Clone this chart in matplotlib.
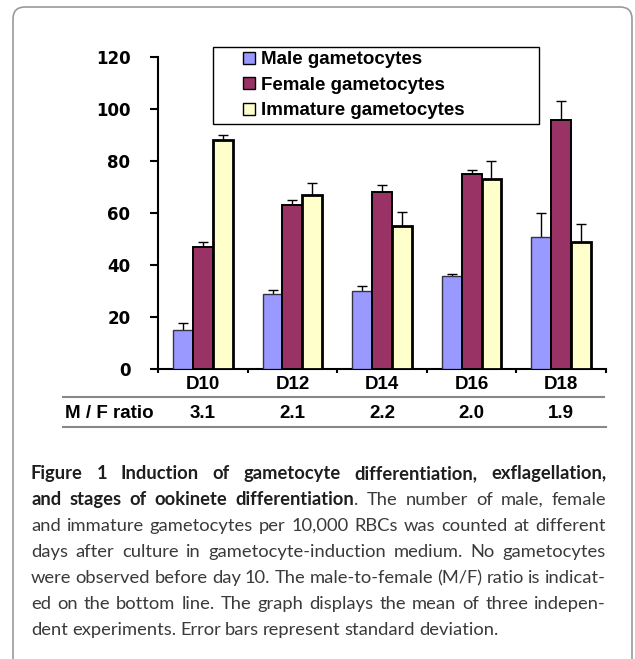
import matplotlib
matplotlib.use("Agg")
import matplotlib.pyplot as plt
import numpy as np
from matplotlib.lines import Line2D
from matplotlib.patches import FancyBboxPatch
from matplotlib.transforms import IdentityTransform, blended_transform_factory

# values
days = ["D10", "D12", "D14", "D16", "D18"]
male = [15, 29, 30, 36, 51]
male_sd = [2.7, 1.5, 2.0, 0.7, 9.0]
female = [47, 63, 68, 75, 96]
female_sd = [2.0, 2.0, 3.0, 1.5, 7.0]
immature = [88, 67, 55, 73, 49]
immature_sd = [2.3, 4.5, 5.5, 7.0, 6.8]
ratio = ["3.1", "2.1", "2.2", "2.0", "1.9"]
labels = ["Male gametocytes", "Female gametocytes", "Immature gametocytes"]

caption = [
    [("Figure 1 Induction of gametocyte differentiation, exflagellation,", "bold")],
    [("and stages of ookinete differentiation", "bold"), (". The number of male, female", "normal")],
    [("and immature gametocytes per 10,000 RBCs was counted at different", "normal")],
    [("days after culture in gametocyte-induction medium. No gametocytes", "normal")],
    [("were observed before day 10. The male-to-female (M/F) ratio is indicat-", "normal")],
    [("ed on the bottom line. The graph displays the mean of three indepen-", "normal")],
    [("dent experiments. Error bars represent standard deviation.", "normal")],
]

W, H = 635, 659
ARIAL = ["Liberation Sans", "DejaVu Sans"]


def fx(px):
    return px / W


def fy(py):
    return 1 - py / H


fig = plt.figure(figsize=(W / 100, H / 100), dpi=100)
ax = fig.add_axes([fx(158), fy(369.3), fx(606) - fx(158), (369.3 - 57.3) / H])

x = np.arange(len(days))
w = 0.222
series = [
    (male, male_sd, "#9999ff", "#333344", 1.0),
    (female, female_sd, "#993366", "black", 1.4),
    (immature, immature_sd, "#ffffcc", "black", 2.0),
]
for i, (vals, sd, fc, ec, lw) in enumerate(series):
    pos = x + (i - 1) * w
    ax.bar(pos, vals, w, color=fc, edgecolor=ec, linewidth=lw, zorder=3)
    ax.errorbar(pos, vals, yerr=sd, fmt="none", ecolor="black", elinewidth=1,
                capsize=3.3, capthick=1, zorder=2)

ax.set_xlim(-0.5, len(days) - 0.5)
ax.set_ylim(0, 120)
ax.set_yticks(range(0, 121, 20))
ax.set_yticklabels([str(v) for v in range(0, 121, 20)],
                   family="DejaVu Sans", weight="bold", fontsize=12)
ax.set_xticks(x)
ax.set_xticklabels(days, family=ARIAL, weight="bold", fontsize=13.5)
ax.set_xticks(np.arange(-0.5, len(days), 1), minor=True)
ax.tick_params(axis="x", which="major", length=0, pad=5)
ax.tick_params(axis="x", which="minor", length=3, width=1.5, direction="out")
ax.tick_params(axis="y", length=5.8, width=1.5, direction="out", pad=14)
for side in ["top", "right"]:
    ax.spines[side].set_visible(False)
for side in ["left", "bottom"]:
    ax.spines[side].set_linewidth(1.5)

# legend
handles = [Line2D([], [], marker="s", ls="none", markersize=8, markerfacecolor=s[2],
                  markeredgecolor="black", markeredgewidth=1) for s in series]
leg = fig.legend(handles, labels, loc="upper left",
                 bbox_to_anchor=(fx(213), fy(121), fx(539) - fx(213), fy(47) - fy(121)),
                 mode="expand", borderaxespad=0, borderpad=0.22, labelspacing=0.45,
                 handlelength=3.4, handletextpad=-1.05, fancybox=False, framealpha=1,
                 edgecolor="black", prop={"family": ARIAL, "weight": "bold", "size": 13.5})
leg.get_frame().set_linewidth(1)

# M / F ratio row
tr = blended_transform_factory(ax.transData, fig.transFigure)
fig.text(fx(65), fy(414), "M / F ratio", ha="left", va="center",
         family=ARIAL, weight="bold", fontsize=13.5)
for i, r in enumerate(ratio):
    fig.text(x[i], fy(414), r, transform=tr, ha="center", va="center",
             family=ARIAL, weight="bold", fontsize=13.5)
fig.add_artist(Line2D([fx(62.7), fx(604)], [fy(396.7)] * 2, color="#888888", lw=1.5))
fig.add_artist(Line2D([fx(62.7), fx(606)], [fy(426.7)] * 2, color="#888888", lw=1.5))

# rounded frame around the figure
fig.add_artist(FancyBboxPatch((13, -40), 619, 652 + 40, boxstyle="round,pad=0,rounding_size=12",
                              transform=IdentityTransform(), fc="none", ec="#9a9a9a", lw=1.2))

# caption, justified
renderer = fig.canvas.get_renderer()
cap_font = ["Lato", "DejaVu Sans"]
colors = {"bold": "#1e1e1e", "normal": "#3a3a3a"}
weights = {"bold": "bold", "normal": "normal"}


def split_words(segs):
    words = []
    for text, wt in segs:
        parts = text.split(" ")
        for k, p in enumerate(parts):
            if p == "":
                continue
            if k == 0 and words:
                words[-1].append((p, wt))
            else:
                words.append([(p, wt)])
    return words


def piece_width(s, wt, fs):
    t = fig.text(0, 0, s, fontsize=fs, family=cap_font, weight=weights[wt])
    wd = t.get_window_extent(renderer).width
    t.remove()
    return wd


left, right = 31, 606
target = right - left
base = 12.0
lines = [split_words(segs) for segs in caption]


def natural(words, size):
    tot = sum(piece_width(p, wt, size) for wd in words for p, wt in wd)
    return tot + (len(words) - 1) * 0.2 * size * 100 / 72


# font size set by the plain lines
nat = [natural(lines[i], base) for i in range(2, 6)]
fs = base * target * 0.99 / max(nat)
space = 0.22 * fs * 100 / 72

for li, words in enumerate(lines):
    widths = [[piece_width(p, wt, fs) for p, wt in wd] for wd in words]
    total = sum(sum(ws) for ws in widths)
    last = li == len(lines) - 1
    gap = space if last else (target - total) / (len(words) - 1)
    xp = left
    yb = 479 + 26 * li
    for wd, ws in zip(words, widths):
        for (p, wt), pw in zip(wd, ws):
            fig.text(fx(xp), fy(yb), p, ha="left", va="baseline", fontsize=fs,
                     family=cap_font, weight=weights[wt], color=colors[wt])
            xp += pw
        xp += gap

fig.savefig("out.png", dpi=100)
